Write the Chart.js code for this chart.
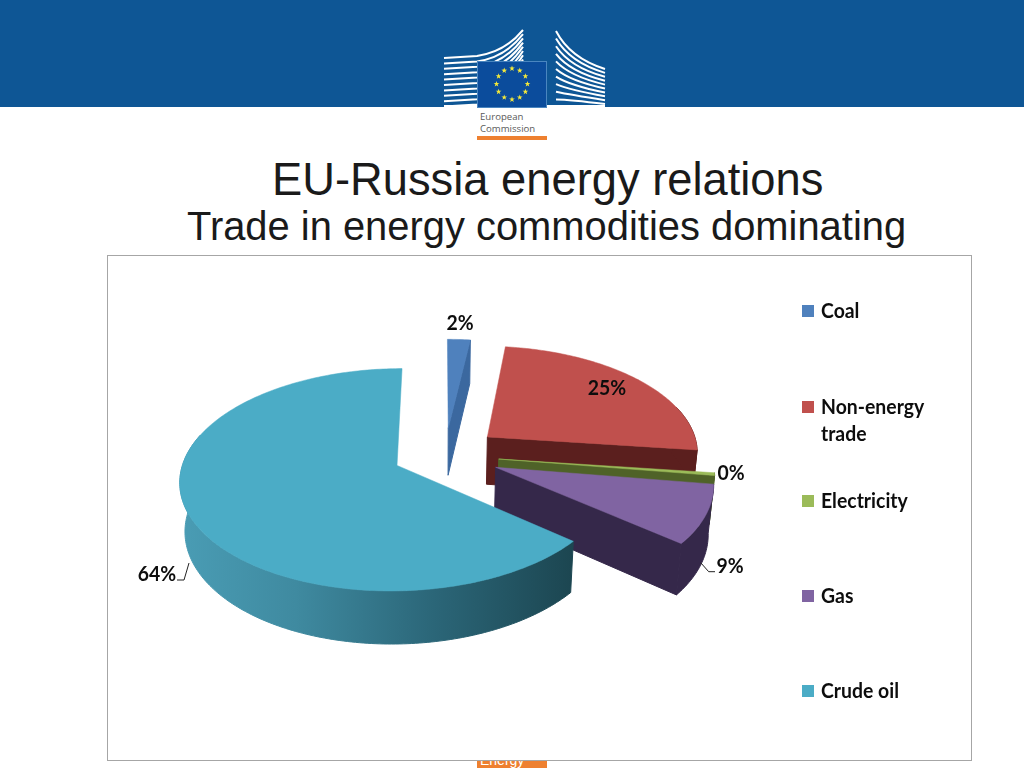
<!DOCTYPE html>
<html><head><meta charset="utf-8">
<script src="https://cdn.jsdelivr.net/npm/chart.js@4"></script>
<style>
html,body{margin:0;padding:0;background:#fff;width:1024px;height:768px;overflow:hidden}
#band{position:absolute;left:0;top:0;width:1024px;height:107px;background:#0e5695}
#logo{position:absolute;left:0;top:0}
.t{position:absolute;font-family:"Liberation Sans",Arial,sans-serif;color:#1a1a1a;white-space:nowrap}
#t1{left:272px;top:154px;font-size:45.3px;line-height:52px}
#t2{left:187px;top:204px;font-size:39.9px;line-height:44px}
.ec{position:absolute;left:480px;font:9.6px "Open Sans",sans-serif;color:#5a5a5a}
#obar{position:absolute;left:477px;top:136px;width:70px;height:4px;background:#ee8030}
#tag{position:absolute;left:477px;top:745px;width:70px;height:23px;background:#ee8030;color:#fff;font:14px "Liberation Sans",sans-serif;overflow:hidden}
#tag span{position:absolute;left:3px;top:7px}
#frame{position:absolute;left:107px;top:255px;width:865px;height:506px;background:#fff;box-sizing:border-box;border:1px solid #a6a6a6}
#c{position:absolute;left:107px;top:255px}
</style></head><body>
<div id="band"></div>
<svg id="logo" width="1024" height="110"></svg>
<div class="ec" style="top:110px">European</div>
<div class="ec" style="top:122px">Commission</div>
<div id="obar"></div>
<div class="t" id="t1">EU-Russia energy relations</div>
<div class="t" id="t2">Trade in energy commodities dominating</div>
<div id="tag"><span>Energy</span></div>
<div id="frame"></div>
<canvas id="c" width="865" height="506"></canvas>
<script>
const categories = ["Coal", "Non-energy trade", "Electricity", "Gas", "Crude oil"];
const shares = [2, 25, 0.4, 8.6, 64];
const topColors = ["#4f81bd", "#c0504d", "#9bbb59", "#8064a2", "#4bacc6"];
const sideColors = ["#3b689f", "#5b1f1e", "#4f6228", "#35284a", "#1f4d59"];
const explode = [55, 60, 58, 59, 48];
const nudgeX = [4, 0, 0, 0, 0];
const legendLines = [["Coal"], ["Non-energy", "trade"], ["Electricity"], ["Gas"], ["Crude oil"]];

/* header emblem */
(function () {
  const svg = document.getElementById('logo'); let s = '';
  for (let i = 0; i < 10; i++) {
    const y = 56 + i * 5.4;
    s += `<path d="M444 ${y + 2} L477 ${y} Q505 ${y - 4} 523 ${30 + i * 4.2}" stroke="#fff" stroke-width="2" fill="none"/>`;
    s += `<path d="M556 ${31 + i * 7.6} Q570 ${58 + i * 4.6} 605 ${69 + i * 3.9}" stroke="#fff" stroke-width="2" fill="none"/>`;
  }
  s += '<rect x="444" y="105" width="161" height="3" fill="#fff"/>';
  s += '<rect x="477.5" y="61.5" width="69" height="46" fill="#0b4c9c" stroke="#4a86c0"/>';
  for (let i = 0; i < 12; i++) {
    const a = i * Math.PI / 6, cx = 512 + 15.5 * Math.sin(a), cy = 84 - 15.5 * Math.cos(a); let p = '';
    for (let j = 0; j < 10; j++) {
      const r = j % 2 ? 1.2 : 3, b = j * Math.PI / 5;
      p += `${cx + r * Math.sin(b)},${cy - r * Math.cos(b)} `;
    }
    s += `<polygon points="${p}" fill="#f4e93a"/>`;
  }
  svg.innerHTML = s;
})();

const K = 0.503, P = 0.000602, BASE = 0.98, DEPTH = 48;

const pie3d = {
  id: 'pie3d',
  beforeDatasetsDraw(chart) {
    const ctx = chart.ctx, arcs = chart.getDatasetMeta(0).data;
    arcs.forEach((el, idx) => {
      const { x: cx, y: cy, startAngle: a0, endAngle: a1, outerRadius: R } = el;
      const off = el.options.offset, mid = (a0 + a1) / 2;
      const ou = Math.cos(mid) * off + nudgeX[idx], ov = Math.sin(mid) * off;
      const top = (u, v) => { const w = 1 / (1 - P * v); return [cx + u * w, cy + K * v * w]; };
      const bot = (u, v) => { const w = 1 / (1 - P * v); return [cx + u * w * BASE, cy + K * v * w * BASE + DEPTH * w]; };
      const rim = [], frontRim = [];
      const n = Math.max(2, Math.ceil((a1 - a0) * 60));
      for (let i = 0; i <= n; i++) {
        const a = a0 + (a1 - a0) * i / n, p = [ou + R * Math.cos(a), ov + R * Math.sin(a)];
        rim.push(p);
        if (Math.sin(a) > -0.3) frontRim.push(p);
      }
      const poly = (pts, fill, lw) => {
        ctx.beginPath(); pts.forEach((p, i) => i ? ctx.lineTo(p[0], p[1]) : ctx.moveTo(p[0], p[1]));
        ctx.closePath(); ctx.fillStyle = fill; ctx.fill(); ctx.strokeStyle = fill; ctx.lineWidth = lw; ctx.stroke();
      };
      let side = sideColors[idx];
      if (idx === 4) {
        const g = ctx.createLinearGradient(70, 0, 465, 0);
        g.addColorStop(0, '#4a9db5'); g.addColorStop(0.3, '#3f8aa0');
        g.addColorStop(0.65, '#2b6678'); g.addColorStop(1, '#1c4651');
        side = g;
      }
      const apexT = top(ou, ov), apexB = bot(ou, ov);
      const e = rim[rim.length - 1];
      if (Math.sin(a0 - Math.PI / 2) > 0.05) poly([apexT, top(rim[0][0], rim[0][1]), bot(rim[0][0], rim[0][1]), apexB], sideColors[idx], 1);
      if (Math.sin(a1 + Math.PI / 2) > 0.05) poly([apexT, top(e[0], e[1]), bot(e[0], e[1]), apexB], sideColors[idx], 1);
      if (frontRim.length > 1) poly([...frontRim.map(p => top(p[0], p[1])), ...frontRim.slice().reverse().map(p => bot(p[0], p[1]))], side, 1);
      poly([apexT, ...rim.map(p => top(p[0], p[1]))], el.options.backgroundColor, 0.5);
    });
    return false;
  },
  afterDraw(chart) {
    const ctx = chart.ctx, o = chart.options.plugins.pie3d, values = chart.data.datasets[0].data;
    ctx.save();
    const text = (s, x, y, align) => {
      ctx.save(); ctx.translate(x, y); ctx.scale(o.textSquash, 1);
      ctx.font = 'bold ' + o.fontSize + 'px Lato, sans-serif'; ctx.fillStyle = '#0d0d0d';
      ctx.textAlign = align; ctx.textBaseline = 'middle'; ctx.fillText(s, 0, 0); ctx.restore();
    };
    values.forEach((v, i) => { const p = o.labelAt[i]; text(Math.round(v) + '%', p[0], p[1], 'center'); });
    ctx.strokeStyle = '#222'; ctx.lineWidth = 1;
    o.leaders.forEach(l => {
      ctx.beginPath(); l.forEach((p, i) => i ? ctx.lineTo(p[0], p[1]) : ctx.moveTo(p[0], p[1])); ctx.stroke();
    });
    legendLines.forEach((lines, i) => {
      const y = o.legendY[i];
      ctx.fillStyle = topColors[i]; ctx.fillRect(o.legendX, y - 6, 12, 12);
      lines.forEach((s, j) => text(s, o.legendX + 19, y + 1 + j * 27, 'left'));
    });
    ctx.restore();
  }
};

new Chart(document.getElementById('c'), {
  type: 'pie',
  data: { labels: categories, datasets: [{ data: shares, backgroundColor: topColors, offset: explode, borderWidth: 0 }] },
  options: {
    responsive: false, animation: false, radius: 212, rotation: 0,
    layout: { padding: { left: 0, top: 0, right: 197, bottom: 106 } },
    plugins: {
      legend: { display: false }, tooltip: { enabled: false }, title: { display: false },
      pie3d: {
        fontSize: 20, textSquash: 0.97,
        labelAt: [[353, 69], [500, 134], [624, 219], [623, 312], [50, 320]],
        leaders: [[[593.7, 307.7], [601.7, 316.7], [608, 316.7]], [[82, 308], [77, 325], [70, 325]]],
        legendX: 695, legendY: [56, 152, 246, 341, 436]
      }
    }
  },
  plugins: [pie3d]
});
</script>
</body></html>
